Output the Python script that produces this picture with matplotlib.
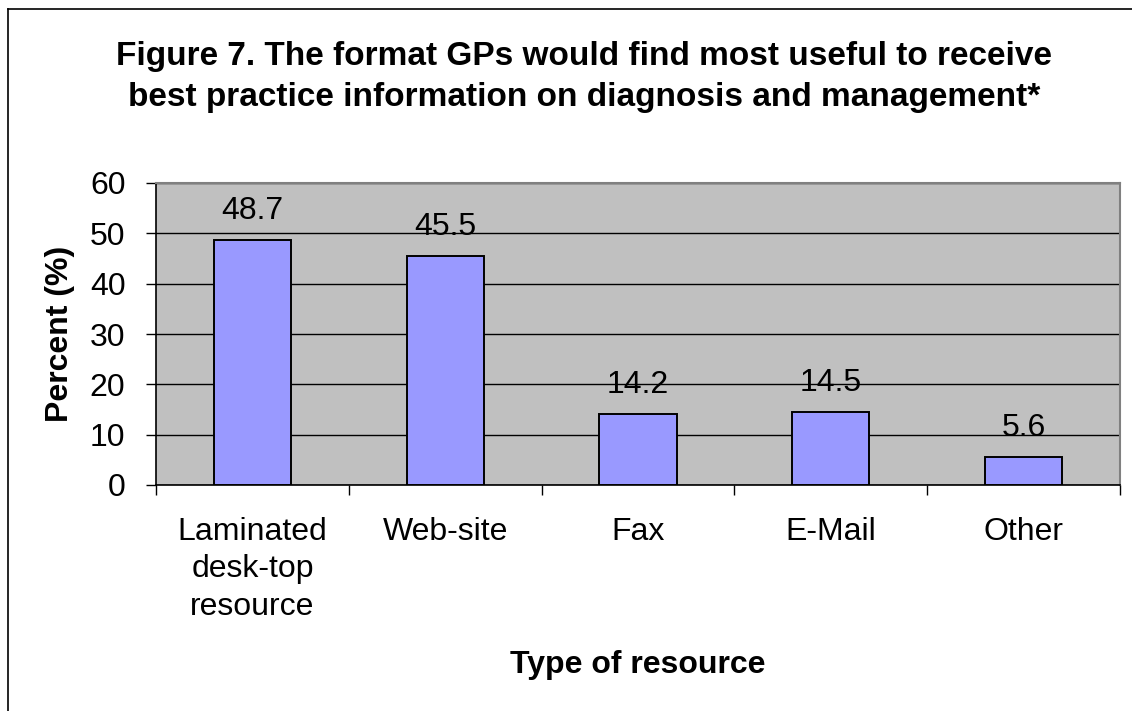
import matplotlib
matplotlib.use("Agg")
import matplotlib.pyplot as plt
from matplotlib.lines import Line2D
import numpy as np

categories = ["Laminated\ndesk-top\nresource", "Web-site", "Fax", "E-Mail", "Other"]
values = [48.7, 45.5, 14.2, 14.5, 5.6]
value_labels = ["48.7", "45.5", "14.2", "14.5", "5.6"]
yticks = [0, 10, 20, 30, 40, 50, 60]

title = "Figure 7. The format GPs would find most useful to receive\nbest practice information on diagnosis and management*"
xlabel = "Type of resource"
ylabel = "Percent (%)"

plt.rcParams['font.family'] = ['Liberation Sans', 'DejaVu Sans']

W, H = 1132, 711
fig = plt.figure(figsize=(W / 100, H / 100), dpi=100)
fig.patch.set_facecolor("white")

# frame around the chart (top and left visible)
fig.add_artist(Line2D([8 / W, 8 / W], [0, 1 - 9 / H], transform=fig.transFigure, color="black", lw=1.2))
fig.add_artist(Line2D([8 / W, 1], [1 - 9 / H, 1 - 9 / H], transform=fig.transFigure, color="black", lw=1.2))

left, right, top, bottom = 156, 1120, 183, 485
ax = fig.add_axes([left / W, 1 - bottom / H, (right - left) / W, (bottom - top) / H])
ax.set_facecolor("#C0C0C0")

x = np.arange(len(categories))
ax.bar(x, values, width=0.4, color="#9999FF", edgecolor="black", linewidth=1.4, zorder=3)

for xi, v, lab in zip(x, values, value_labels):
    ax.annotate(lab, (xi, v), xytext=(0, 10), textcoords="offset points",
                ha="center", va="bottom", fontsize=23)

ax.set_xlim(-0.5, len(categories) - 0.5)
ax.set_ylim(0, 60)
ax.set_yticks(yticks)
ax.set_yticklabels([str(t) for t in yticks], fontsize=23)
ax.yaxis.grid(True, color="black", linewidth=1.0, zorder=1)
ax.set_axisbelow(True)

ax.set_xticks(x)
ax.set_xticklabels(categories, fontsize=23, linespacing=1.32)
ax.tick_params(axis="x", which="major", length=0, pad=23)
ax.set_xticks(np.arange(-0.5, len(categories), 1.0), minor=True)
ax.tick_params(axis="x", which="minor", length=7, width=1, direction="out")
ax.tick_params(axis="y", length=7, width=1, direction="out", pad=15)

for s in ["left", "bottom"]:
    ax.spines[s].set_color("black")
    ax.spines[s].set_linewidth(1.2)
for s in ["top", "right"]:
    ax.spines[s].set_color("#808080")
    ax.spines[s].set_linewidth(1.5)

fig.text(60 / W, 1 - 334 / H, ylabel, ha="center", va="center", rotation=90,
         fontsize=23, fontweight="bold")
fig.text(638 / W, 1 - 665 / H, xlabel, ha="center", va="center", fontsize=23, fontweight="bold")
fig.text(584 / W, 1 - 77 / H, title, ha="center", va="center", fontsize=24, fontweight="bold",
         linespacing=1.38)

fig.savefig("out.png", dpi=100)
